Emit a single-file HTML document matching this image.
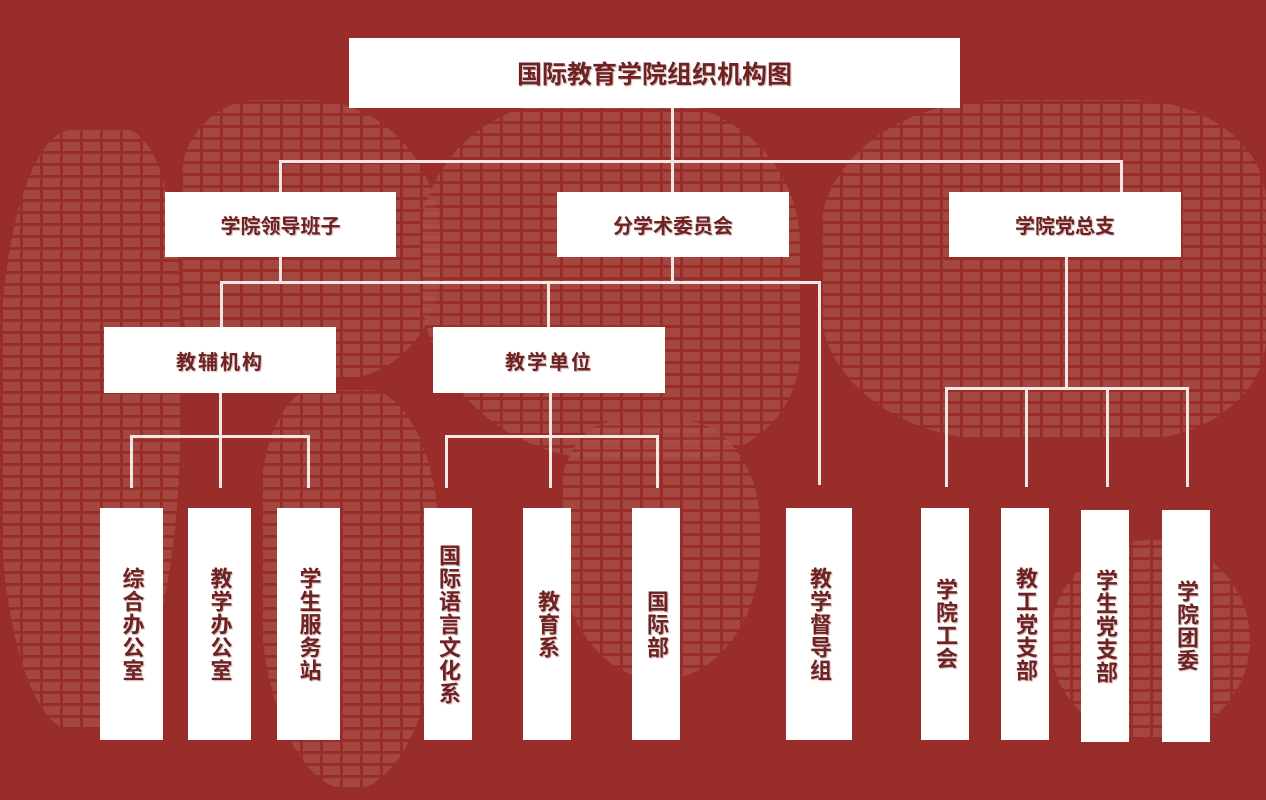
<!DOCTYPE html>
<html><head><meta charset="utf-8"><style>
body{margin:0;width:1266px;height:800px;background:#992d29;position:relative;overflow:hidden;font-family:"Liberation Sans","Noto Sans CJK SC",sans-serif}
.g{position:absolute;background-image:repeating-linear-gradient(0deg,#992d29 0 3px,transparent 3px 12px),repeating-linear-gradient(90deg,transparent 0 3px,#aa5049 3px 20px);opacity:.75}
.b{position:absolute;background:#fff;color:#6e2222;font-weight:bold;display:flex;align-items:center;justify-content:center;text-shadow:1px 1px 1px rgba(120,40,40,.35)}
.v{writing-mode:vertical-rl;font-size:22px;letter-spacing:1px;font-weight:bold}
.l{position:absolute;background:#f4e6e2}
</style></head><body>
<div class="g" style="left:0;top:130px;width:180px;height:600px;border-radius:40% 30% 50% 40%"></div>
<div class="g" style="left:180px;top:100px;width:260px;height:280px;border-radius:30% 50% 40% 30%"></div>
<div class="g" style="left:260px;top:390px;width:180px;height:400px;border-radius:30% 40% 50% 50%"></div>
<div class="g" style="left:420px;top:100px;width:380px;height:360px;border-radius:40% 40% 30% 50%"></div>
<div class="g" style="left:560px;top:420px;width:200px;height:260px;border-radius:30% 40% 50% 50%"></div>
<div class="g" style="left:820px;top:100px;width:446px;height:340px;border-radius:40% 30% 30% 40%"></div>
<div class="g" style="left:1050px;top:540px;width:200px;height:200px;border-radius:50%"></div>

<div class="b" style="left:349px;top:38px;width:611px;height:70px;font-size:25px">国际教育学院组织机构图</div>
<div class="l" style="left:671px;top:108px;width:3px;height:54px"></div>
<div class="l" style="left:279px;top:160px;width:844px;height:3px"></div>
<div class="l" style="left:279px;top:160px;width:3px;height:32px"></div>
<div class="l" style="left:671px;top:160px;width:3px;height:32px"></div>
<div class="l" style="left:1120px;top:160px;width:3px;height:32px"></div>

<div class="b" style="left:165px;top:192px;width:231px;height:65px;font-size:20px">学院领导班子</div>
<div class="b" style="left:557px;top:192px;width:232px;height:65px;font-size:20px">分学术委员会</div>
<div class="b" style="left:949px;top:192px;width:232px;height:65px;font-size:20px">学院党总支</div>

<div class="l" style="left:279px;top:257px;width:3px;height:26px"></div>
<div class="l" style="left:671px;top:257px;width:3px;height:26px"></div>
<div class="l" style="left:220px;top:281px;width:601px;height:3px"></div>
<div class="l" style="left:220px;top:281px;width:3px;height:46px"></div>
<div class="l" style="left:547px;top:281px;width:3px;height:46px"></div>
<div class="l" style="left:818px;top:281px;width:3px;height:204px"></div>

<div class="b" style="left:104px;top:327px;width:232px;height:66px;font-size:20px;letter-spacing:2px">教辅机构</div>
<div class="b" style="left:433px;top:327px;width:232px;height:66px;font-size:20px;letter-spacing:2px">教学单位</div>

<div class="l" style="left:219px;top:393px;width:3px;height:44px"></div>
<div class="l" style="left:130px;top:435px;width:180px;height:3px"></div>
<div class="l" style="left:130px;top:435px;width:3px;height:53px"></div>
<div class="l" style="left:219px;top:435px;width:3px;height:53px"></div>
<div class="l" style="left:307px;top:435px;width:3px;height:53px"></div>

<div class="l" style="left:549px;top:393px;width:3px;height:44px"></div>
<div class="l" style="left:445px;top:435px;width:214px;height:3px"></div>
<div class="l" style="left:445px;top:435px;width:3px;height:53px"></div>
<div class="l" style="left:549px;top:435px;width:3px;height:53px"></div>
<div class="l" style="left:656px;top:435px;width:3px;height:53px"></div>

<div class="l" style="left:1065px;top:257px;width:3px;height:132px"></div>
<div class="l" style="left:945px;top:387px;width:244px;height:3px"></div>
<div class="l" style="left:945px;top:387px;width:3px;height:100px"></div>
<div class="l" style="left:1025px;top:387px;width:3px;height:100px"></div>
<div class="l" style="left:1106px;top:387px;width:3px;height:100px"></div>
<div class="l" style="left:1186px;top:387px;width:3px;height:100px"></div>

<div class="b v" style="left:100px;top:508px;width:63px;height:232px">综合办公室</div>
<div class="b v" style="left:188px;top:508px;width:63px;height:232px">教学办公室</div>
<div class="b v" style="left:277px;top:508px;width:63px;height:232px">学生服务站</div>
<div class="b v" style="left:424px;top:508px;width:48px;height:232px">国际语言文化系</div>
<div class="b v" style="left:523px;top:508px;width:48px;height:232px">教育系</div>
<div class="b v" style="left:632px;top:508px;width:48px;height:232px">国际部</div>
<div class="b v" style="left:786px;top:508px;width:66px;height:232px">教学督导组</div>
<div class="b v" style="left:921px;top:508px;width:48px;height:232px">学院工会</div>
<div class="b v" style="left:1001px;top:508px;width:48px;height:232px">教工党支部</div>
<div class="b v" style="left:1081px;top:510px;width:48px;height:232px">学生党支部</div>
<div class="b v" style="left:1162px;top:510px;width:48px;height:232px">学院团委</div>
</body></html>
